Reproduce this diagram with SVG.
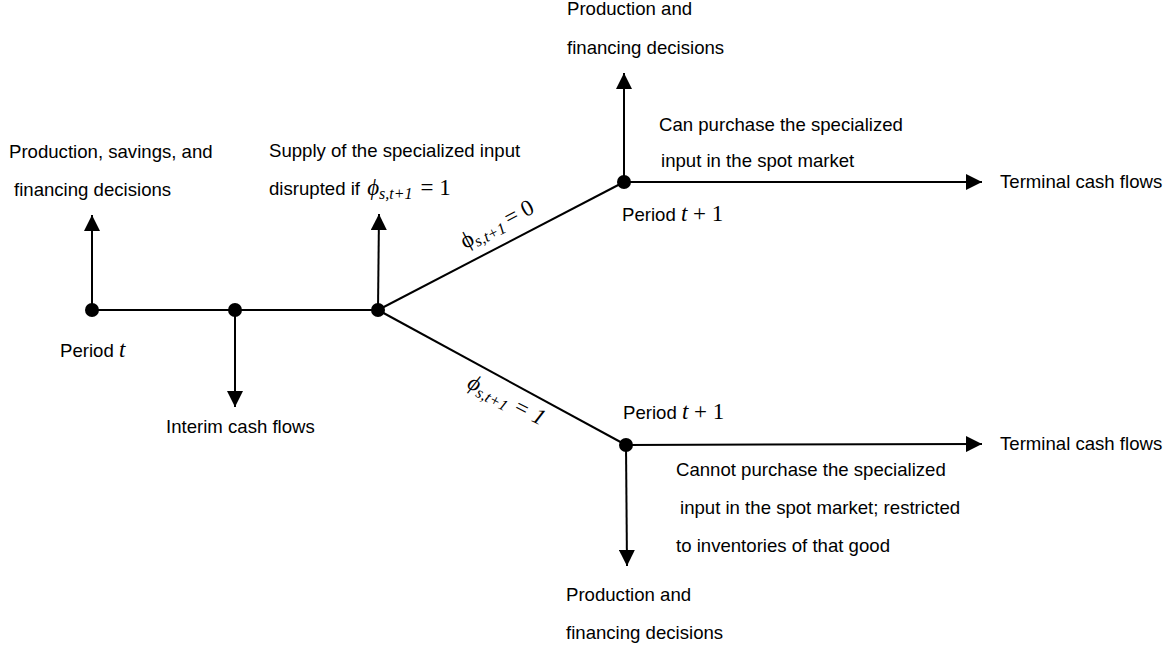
<svg xmlns="http://www.w3.org/2000/svg" width="1172" height="648" viewBox="0 0 1172 648">
<defs>
<marker id="ah" viewBox="0 0 16 16" refX="16" refY="8" markerWidth="16" markerHeight="16" markerUnits="userSpaceOnUse" orient="auto">
<path d="M0,0 L16,8 L0,16 Z" fill="#000"/>
</marker>
<style>
.ln{stroke:#000;stroke-width:2;fill:none}
.ar{stroke:#000;stroke-width:2;fill:none;marker-end:url(#ah)}
.dot{fill:#000}
.t{font-family:"Liberation Sans",Arial,sans-serif;font-size:18.6px;fill:#000}
.m{font-family:"Liberation Serif","DejaVu Serif",serif;font-style:normal;font-size:23px;fill:#000}
.mi{font-family:"Liberation Serif","DejaVu Serif",serif;font-style:italic;font-size:23px;fill:#000}
.ms{font-family:"Liberation Serif","DejaVu Serif",serif;font-style:italic;font-size:16px;fill:#000}
</style>
</defs>
<rect width="1172" height="648" fill="#fff"/>
<g id="connectors">
<line class="ln" x1="92" y1="310" x2="378" y2="310"/>
<line class="ar" x1="92" y1="310" x2="92" y2="215"/>
<line class="ar" x1="235" y1="310" x2="235" y2="407"/>
<line class="ar" x1="378" y1="310" x2="379" y2="214"/>
<line class="ln" x1="378" y1="310" x2="624" y2="182"/>
<line class="ln" x1="378" y1="310" x2="626" y2="445"/>
<line class="ar" x1="624" y1="182" x2="624" y2="73"/>
<line class="ar" x1="624" y1="182" x2="982" y2="182"/>
<line class="ar" x1="626" y1="445" x2="982" y2="444"/>
<line class="ar" x1="626" y1="445" x2="627" y2="566"/>
</g>
<g id="node-period-t">
<circle class="dot" cx="92" cy="310" r="7"/>
<text class="t" x="60" y="357">Period <tspan class="mi">t</tspan></text>
<text class="t" x="9" y="158">Production, savings, and</text>
<text class="t" x="14" y="196">financing decisions</text>
</g>
<g id="node-interim">
<circle class="dot" cx="235" cy="310" r="7"/>
<text class="t" x="166" y="433">Interim cash flows</text>
</g>
<g id="node-supply">
<circle class="dot" cx="378" cy="310" r="7"/>
<text class="t" x="269" y="157">Supply of the specialized input</text>
<text class="t" x="269" y="195">disrupted if <tspan class="mi" dx="2">ϕ</tspan><tspan class="ms" dy="4">s,t+1</tspan><tspan class="m" dy="-4" dx="8">= 1</tspan></text>
</g>
<g id="label-phi0">
<text class="m" transform="translate(465,249) rotate(-27.5)">ϕ<tspan class="ms" font-style="normal" dy="4">s,t+1</tspan><tspan dy="-4" dx="4">= 0</tspan></text>
</g>
<g id="label-phi1">
<text class="mi" transform="translate(466,387) rotate(27.5)">ϕ<tspan class="ms" dy="4">s,t+1</tspan><tspan dy="-4" dx="6">= 1</tspan></text>
</g>
<g id="node-upper">
<circle class="dot" cx="624" cy="182" r="7"/>
<text class="t" x="622" y="221">Period <tspan class="mi">t</tspan><tspan class="m"> + 1</tspan></text>
<text class="t" x="567" y="15">Production and</text>
<text class="t" x="567" y="54">financing decisions</text>
<text class="t" x="659" y="131">Can purchase the specialized</text>
<text class="t" x="661" y="167">input in the spot market</text>
<text class="t" x="1000" y="188">Terminal cash flows</text>
</g>
<g id="node-lower">
<circle class="dot" cx="626" cy="445" r="7"/>
<text class="t" x="623" y="419">Period <tspan class="mi">t</tspan><tspan class="m"> + 1</tspan></text>
<text class="t" x="1000" y="450">Terminal cash flows</text>
<text class="t" x="676" y="476">Cannot purchase the specialized</text>
<text class="t" x="680" y="514">input in the spot market; restricted</text>
<text class="t" x="676" y="552">to inventories of that good</text>
<text class="t" x="566" y="601">Production and</text>
<text class="t" x="566" y="639">financing decisions</text>
</g>
</svg>
